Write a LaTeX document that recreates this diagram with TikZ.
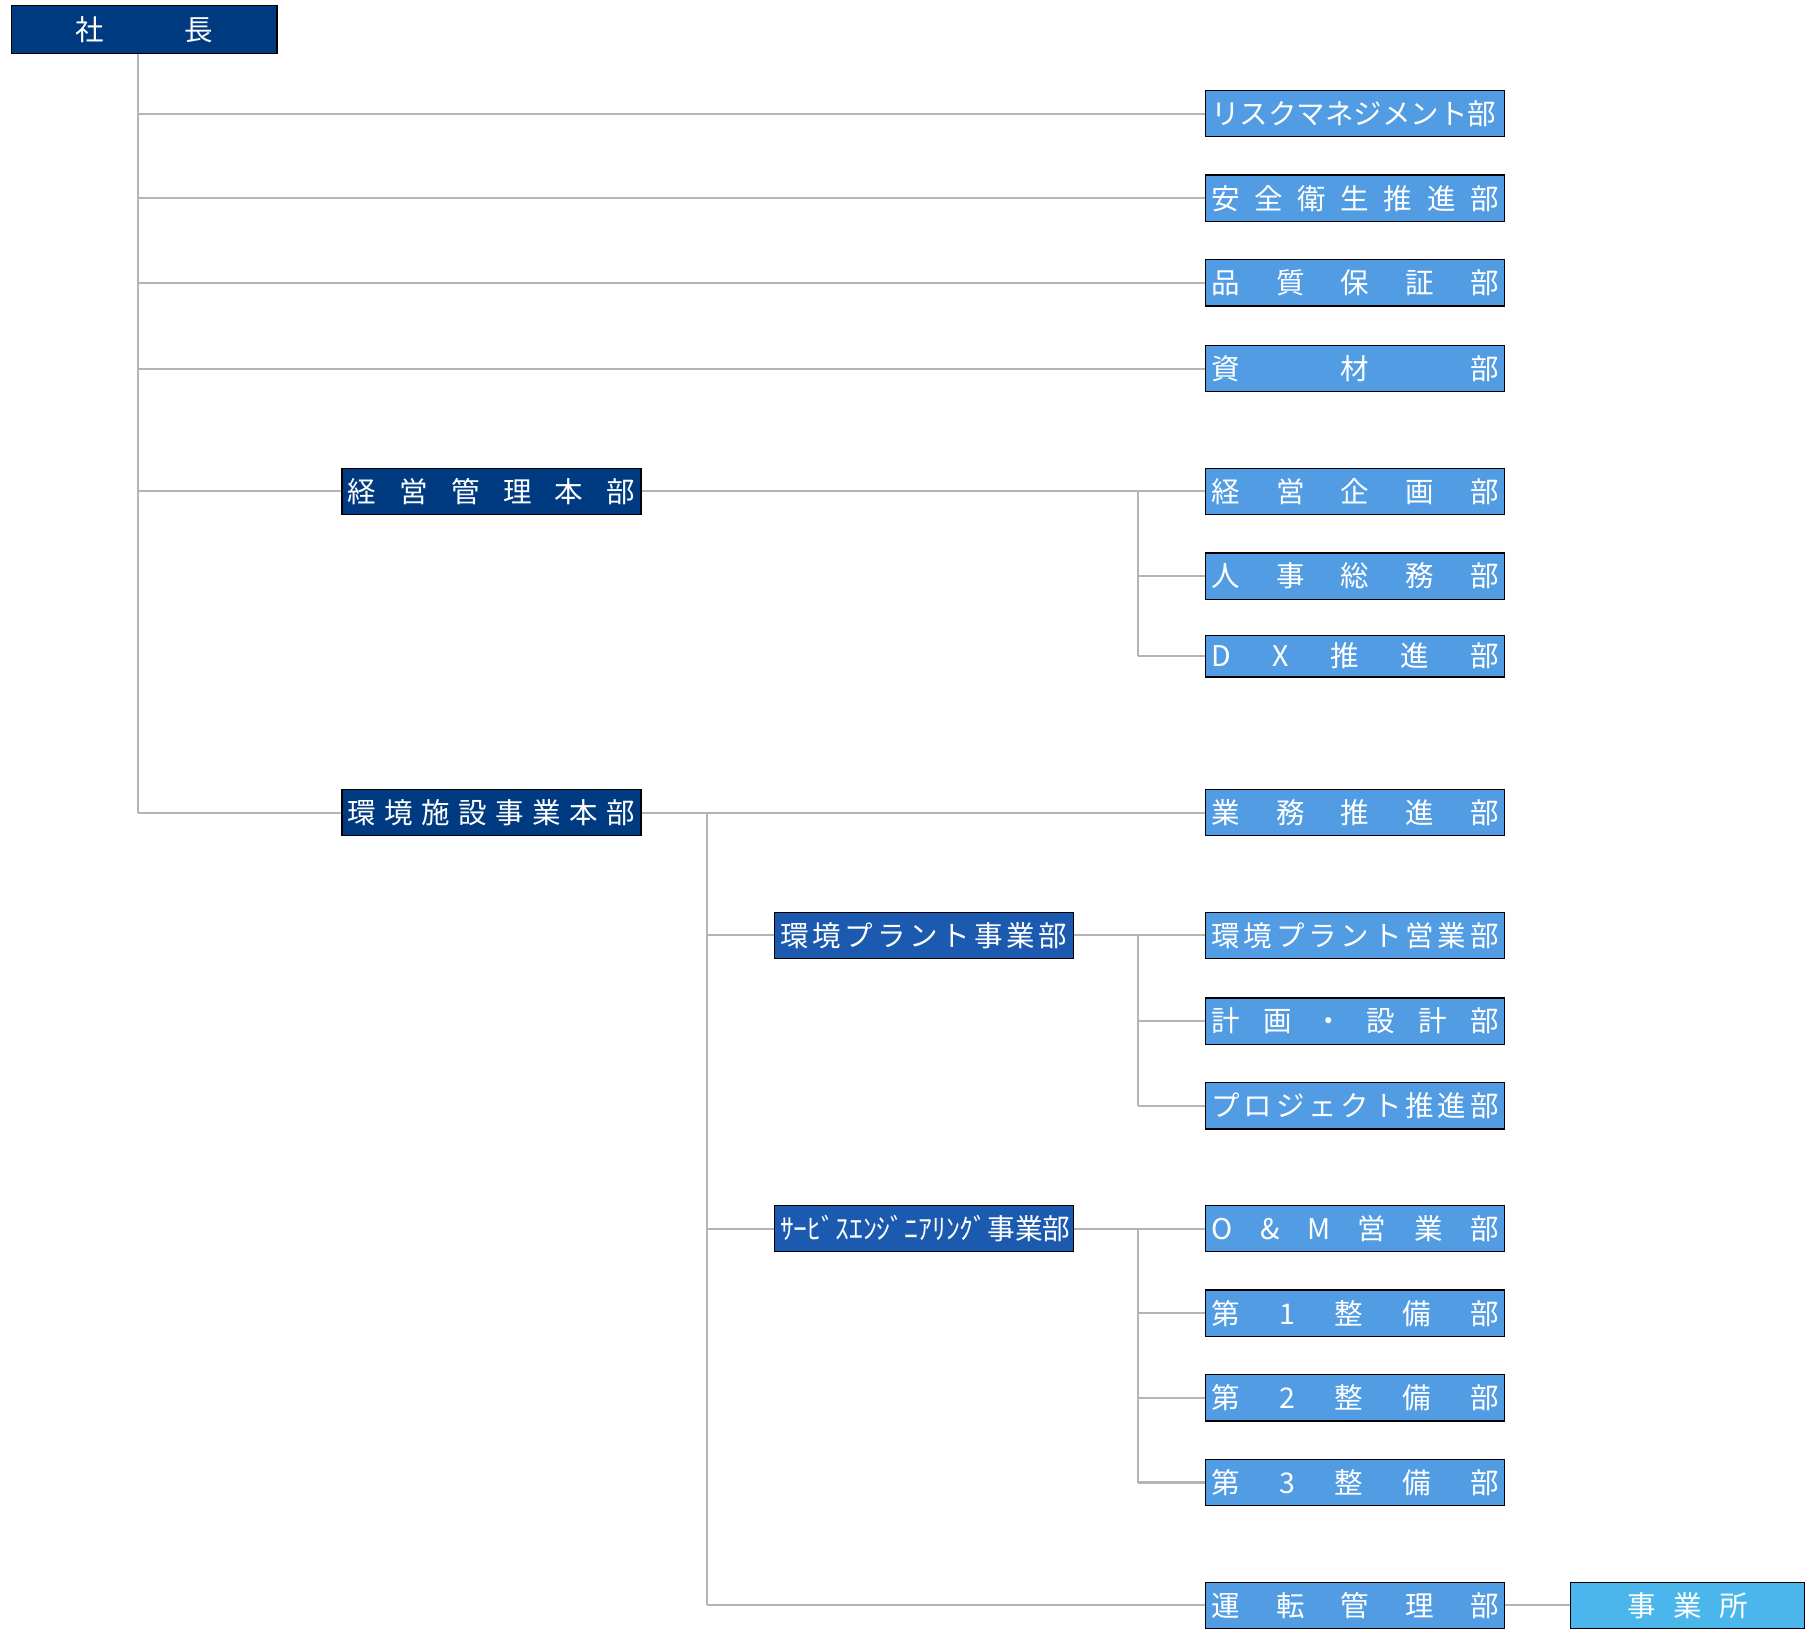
\documentclass[tikz,border=0pt]{standalone}
\usepackage{fontspec}
\usepackage{tikz}
\usepackage{xcolor}
\usetikzlibrary{shapes}
\newfontfamily\jp{Noto Sans CJK JP}
\definecolor{navy}{RGB}{0,59,130}
\definecolor{midblue}{RGB}{28,90,176}
\definecolor{lightblue}{RGB}{82,156,228}
\definecolor{siteblue}{RGB}{74,182,236}
\definecolor{linegray}{RGB}{180,180,180}
\newcommand\spread[1]{\hbox to 4.96cm{#1}}

\begin{document}
\begin{tikzpicture}[x=0.02cm,y=-0.02cm,
    org/.style={draw=black,line width=0.6pt,text=white,minimum width=5.16cm,minimum height=0.8cm,inner sep=0pt,font=\jp\fontsize{14}{16}\selectfont},
    top/.style={org,fill=navy},
    sub/.style={org,fill=midblue},
    dept/.style={org,fill=lightblue},
    site/.style={org,fill=siteblue},
    link/.style={draw=linegray,line width=1pt}]
                \useasboundingbox (0,0) rectangle (1565,1409);
                % President
                \node[top,minimum width=4.58cm,minimum height=0.82cm] (ceo) at (124.5,25.5) {社\hspace{2.8em}長};

                % Staff departments
                \node[dept] (risk) at (1169,98) {\spread{リスクマネジメント部}};
                \node[dept] (safety) at (1169,171) {\spread{安\hfill 全\hfill 衛\hfill 生\hfill 推\hfill 進\hfill 部}};
                \node[dept] (quality) at (1169,244) {\spread{品\hfill 質\hfill 保\hfill 証\hfill 部}};
                \node[dept] (material) at (1169,318) {\spread{資\hfill 材\hfill 部}};

                % Headquarters
                \node[top] (hq1) at (424,424) {\spread{経\hfill 営\hfill 管\hfill 理\hfill 本\hfill 部}};
                \node[top] (hq2) at (424,701) {\spread{環\hfill 境\hfill 施\hfill 設\hfill 事\hfill 業\hfill 本\hfill 部}};

                % Management departments
                \node[dept] (plan) at (1169,424) {\spread{経\hfill 営\hfill 企\hfill 画\hfill 部}};
                \node[dept] (hr) at (1169,497) {\spread{人\hfill 事\hfill 総\hfill 務\hfill 部}};
                \node[dept,minimum height=0.72cm] (dx) at (1169,566) {\spread{D\hfill X\hfill 推\hfill 進\hfill 部}};

                % Divisions
                \node[dept] (biz) at (1169,701) {\spread{業\hfill 務\hfill 推\hfill 進\hfill 部}};
                \node[sub] (plant) at (797,807) {\spread{環\hfill 境\hfill プ\hfill ラ\hfill ン\hfill ト\hfill 事\hfill 業\hfill 部}};
                \node[sub] (svc) at (797,1060) {\spread{\scalebox{0.97}[1]{ｻｰﾋﾞｽｴﾝｼﾞﾆｱﾘﾝｸﾞ事業部}}};

                % Plant departments
                \node[dept] (psales) at (1169,807) {\spread{環\hfill 境\hfill プ\hfill ラ\hfill ン\hfill ト\hfill 営\hfill 業\hfill 部}};
                \node[dept] (design) at (1169,881) {\spread{計\hfill 画\hfill ・\hfill 設\hfill 計\hfill 部}};
                \node[dept] (proj) at (1169,954) {\spread{プ\hfill ロ\hfill ジ\hfill ェ\hfill ク\hfill ト\hfill 推\hfill 進\hfill 部}};

                % Service departments
                \node[dept] (om) at (1169,1060) {\spread{O\hfill \&\hfill M\hfill 営\hfill 業\hfill 部}};
                \node[dept] (m1) at (1169,1133) {\spread{第\hfill 1\hfill 整\hfill 備\hfill 部}};
                \node[dept] (m2) at (1169,1206) {\spread{第\hfill 2\hfill 整\hfill 備\hfill 部}};
                \node[dept] (m3) at (1169,1279) {\spread{第\hfill 3\hfill 整\hfill 備\hfill 部}};
                \node[dept] (ops) at (1169,1385) {\spread{運\hfill 転\hfill 管\hfill 理\hfill 部}};
                \node[site,minimum width=4.04cm] (site) at (1456,1385) {事\hspace{0.6em}業\hspace{0.6em}所};

                % Bus lines
                \coordinate (tk) at (119,0);
                \coordinate (b1) at (982,0);
                \coordinate (b2) at (610,0);

                % President trunk
                \draw[link] (tk |- ceo.south) -- (tk |- hq2.west);
                \foreach \n in {risk,safety,quality,material,hq1,hq2}
                    \draw[link] (tk |- \n.west) -- (\n.west);

                % Management branch
                \draw[link] (hq1.east) -- (plan.west);
                \draw[link] (b1 |- plan.west) -- (b1 |- dx.west);
                \foreach \n in {hr,dx}
                    \draw[link] (b1 |- \n.west) -- (\n.west);

                % Environment branch
                \draw[link] (hq2.east) -- (biz.west);
                \draw[link] (b2 |- hq2.east) -- (b2 |- ops.west);
                \foreach \n in {plant,svc,ops}
                    \draw[link] (b2 |- \n.west) -- (\n.west);
                \draw[link] (plant.east) -- (psales.west);
                \draw[link] (b1 |- psales.west) -- (b1 |- proj.west);
                \foreach \n in {design,proj}
                    \draw[link] (b1 |- \n.west) -- (\n.west);
                \draw[link] (svc.east) -- (om.west);
                \draw[link] (b1 |- om.west) -- (b1 |- m3.west);
                \foreach \n in {m1,m2,m3}
                    \draw[link] (b1 |- \n.west) -- (\n.west);
                \draw[link] (ops.east) -- (site.west);
            \end{tikzpicture}
\end{document}
